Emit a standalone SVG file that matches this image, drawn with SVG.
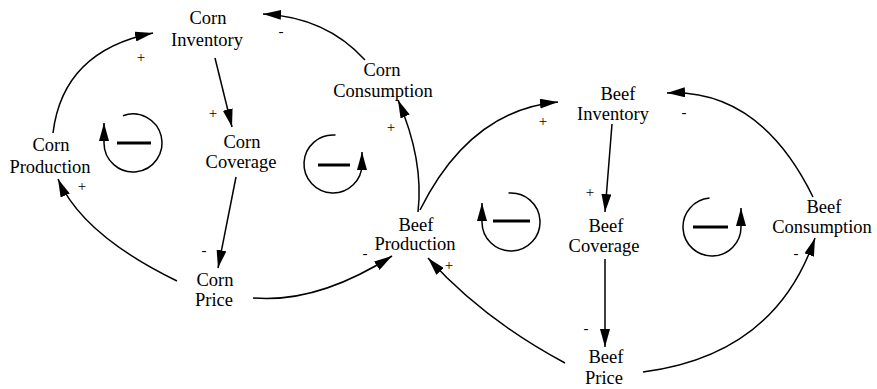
<svg xmlns="http://www.w3.org/2000/svg" width="877" height="389" viewBox="0 0 877 389">
<style>
.n{font-family:"Liberation Serif","Times New Roman",serif;font-size:18.5px;fill:#000;text-anchor:middle}
.s{font-family:"Liberation Serif","Times New Roman",serif;font-size:15px;fill:#000;text-anchor:middle}
.c{fill:none;stroke:#000;stroke-width:1.5;marker-end:url(#ah)}
.bar{stroke:#000;stroke-width:3}
</style>
<defs>
<marker id="ah" markerWidth="18" markerHeight="10" refX="18" refY="5" orient="auto" markerUnits="userSpaceOnUse">
<path d="M0,0 L18,5 L0,10 z" fill="#000"/>
</marker>
</defs>
<rect width="877" height="389" fill="#fff"/>
<g id="corn-inventory"><text class="n" x="208" y="24">Corn</text><text class="n" x="207" y="46">Inventory</text></g>
<g id="corn-consumption"><text class="n" x="382" y="76">Corn</text><text class="n" x="383" y="97">Consumption</text></g>
<g id="corn-production"><text class="n" x="51" y="151">Corn</text><text class="n" x="50" y="173">Production</text></g>
<g id="corn-coverage"><text class="n" x="242" y="148">Corn</text><text class="n" x="241" y="168">Coverage</text></g>
<g id="corn-price"><text class="n" x="215" y="286">Corn</text><text class="n" x="214" y="306">Price</text></g>
<g id="beef-production"><text class="n" x="416" y="231">Beef</text><text class="n" x="415" y="250">Production</text></g>
<g id="beef-inventory"><text class="n" x="618" y="100">Beef</text><text class="n" x="613" y="120">Inventory</text></g>
<g id="beef-coverage"><text class="n" x="606" y="232">Beef</text><text class="n" x="604" y="252">Coverage</text></g>
<g id="beef-price"><text class="n" x="606" y="363">Beef</text><text class="n" x="604" y="384">Price</text></g>
<g id="beef-consumption"><text class="n" x="824" y="213">Beef</text><text class="n" x="822" y="233">Consumption</text></g>
<g id="loops">
<path class="c" d="M123,115.7 A29,29 0 1 1 104,143 L104,123"/>
<line class="bar" x1="117" y1="143" x2="151" y2="143"/>
<path class="c" d="M335.5,135.1 A29,29 0 1 0 362,164 L362,152"/>
<line class="bar" x1="318" y1="165" x2="350" y2="165"/>
<path class="c" d="M508.5,193.1 A29,29 0 1 1 482,222 L482,203"/>
<line class="bar" x1="493" y1="221" x2="530" y2="221"/>
<path class="c" d="M709.5,198.1 A29,29 0 1 0 741,227 L741,208"/>
<line class="bar" x1="693" y1="227" x2="728" y2="227"/>
</g>
<g id="connectors">
<path class="c" d="M53,133 Q63,51 153,33"/>
<path class="c" d="M215,58 L232,127"/>
<path class="c" d="M236,177 L218,268"/>
<path class="c" d="M177,281 Q82.5,235 58,179"/>
<path class="c" d="M253,298 Q317.5,303.5 392,256"/>
<path class="c" d="M418,212 Q424,160 398,100"/>
<path class="c" d="M420,210 Q470,110 558,102"/>
<path class="c" d="M612,124 L605,212"/>
<path class="c" d="M605,259 L605,347"/>
<path class="c" d="M565,363 Q483.5,319.5 428,258"/>
<path class="c" d="M643,372 Q775,355 815,238"/>
<path class="c" d="M813,197 Q760,89 667,93"/>
<path class="c" d="M365,60 Q326,17 263,14"/>
</g>
<g id="polarity">
<text class="s" x="141" y="62">+</text>
<text class="s" x="213" y="118">+</text>
<text class="s" x="204" y="255">-</text>
<text class="s" x="82" y="191">+</text>
<text class="s" x="365" y="258">-</text>
<text class="s" x="391" y="132">+</text>
<text class="s" x="543" y="126">+</text>
<text class="s" x="590" y="197">+</text>
<text class="s" x="586" y="333">-</text>
<text class="s" x="449" y="270">+</text>
<text class="s" x="796" y="258">-</text>
<text class="s" x="684" y="117">-</text>
<text class="s" x="281" y="36">-</text>
</g>
</svg>
